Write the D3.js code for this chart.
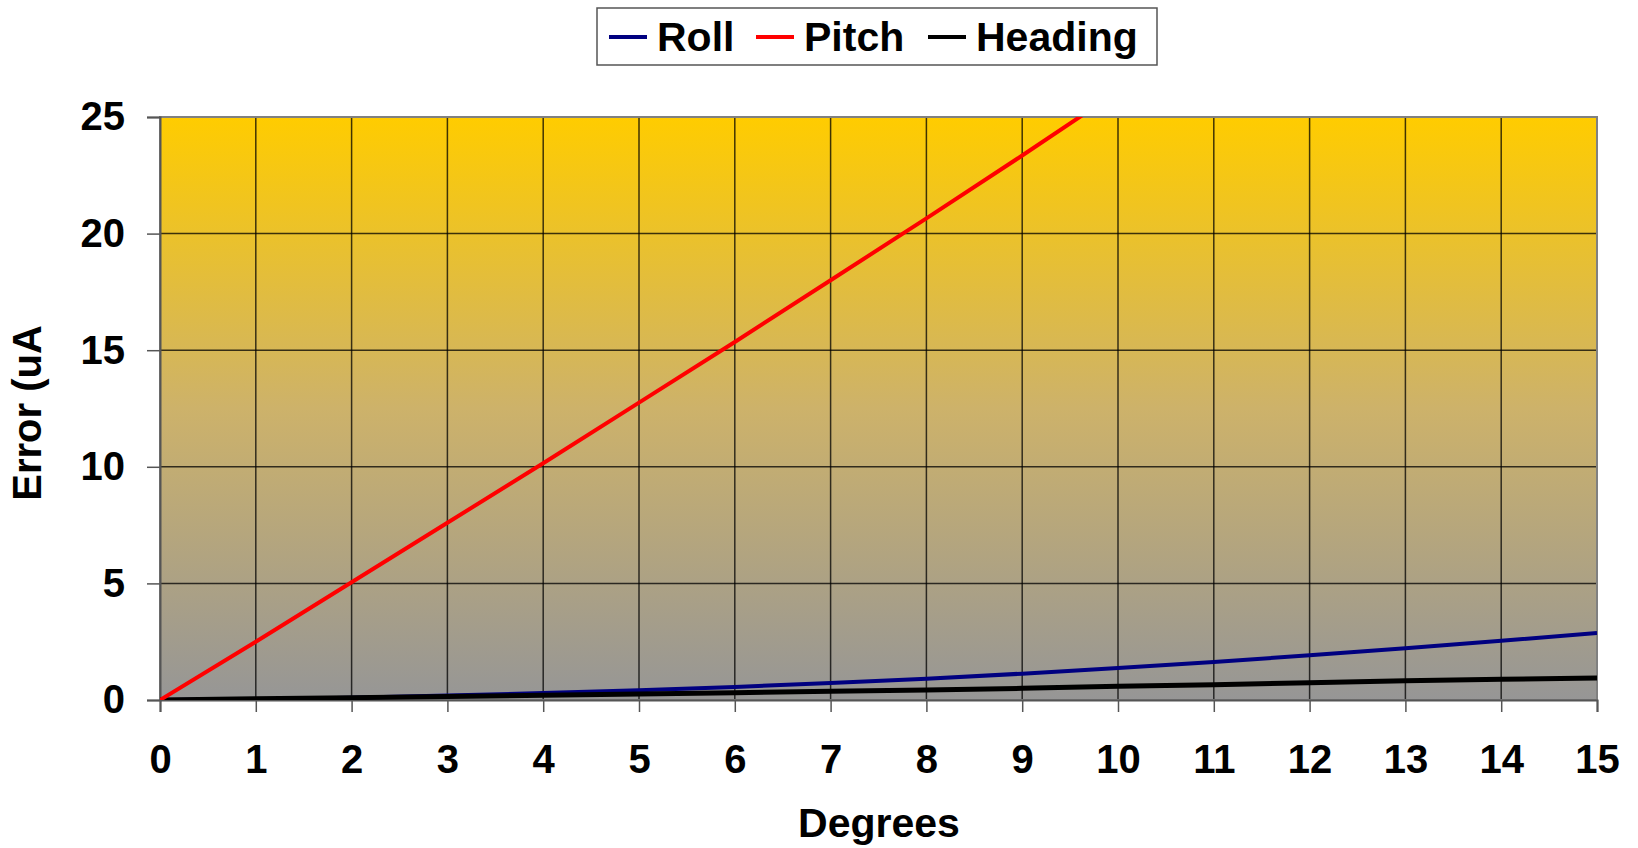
<!DOCTYPE html>
<html>
<head>
<meta charset="utf-8">
<script src="https://cdn.jsdelivr.net/npm/d3@7"></script>
<style>
  body { margin: 0; background: #fff; }
  svg { display: block; font-family: "Liberation Sans", Arial, sans-serif; font-weight: bold; }
</style>
</head>
<body>
<svg id="chart" width="1638" height="848"></svg>
<script>
const degrees = [0,1,2,3,4,5,6,7,8,9,10,11,12,13,14,15];
const roll    = [0,0.03,0.1,0.19,0.3,0.42,0.56,0.73,0.91,1.13,1.37,1.63,1.92,2.22,2.54,2.87];
const pitch   = [0,2.5,5.05,7.6,10.15,12.75,15.35,18.0,20.65,23.35,26.1,28.9,31.7,34.6,37.6,40.6];
const heading = [0,0.05,0.1,0.15,0.2,0.26,0.31,0.37,0.43,0.5,0.59,0.65,0.74,0.83,0.89,0.94];
const xTicks = [0,1,2,3,4,5,6,7,8,9,10,11,12,13,14,15];
const yTicks = [0,5,10,15,20,25];
const seriesNames = ["Roll","Pitch","Heading"];
const seriesColors = ["#000080","#FF0000","#000000"];
const seriesValues = [roll, pitch, heading];

const svg = d3.select("#chart");
const L = 160, R = 1597, T = 117, B = 700;
const x = d3.scaleLinear().domain([0,15]).range([L,R]);
const y = d3.scaleLinear().domain([0,25]).range([B,T]);

const defs = svg.append("defs");
const grad = defs.append("linearGradient").attr("id","bg").attr("x1",0).attr("y1",0).attr("x2",0).attr("y2",1);
grad.append("stop").attr("offset","0%").attr("stop-color","#FFCC00");
grad.append("stop").attr("offset","50%").attr("stop-color","#CDB26A");
grad.append("stop").attr("offset","100%").attr("stop-color","#969696");
defs.append("clipPath").attr("id","clip").append("rect")
  .attr("x",L).attr("y",T).attr("width",R-L).attr("height",B-T);

svg.append("rect").attr("x",L).attr("y",T).attr("width",R-L).attr("height",B-T).attr("fill","url(#bg)");

// gridlines
svg.append("g").selectAll("line").data(xTicks.slice(1,-1)).join("line")
  .attr("x1",d=>x(d)).attr("x2",d=>x(d)).attr("y1",T).attr("y2",B)
  .attr("stroke","#000").attr("stroke-opacity",0.75).attr("stroke-width",1.5);
svg.append("g").selectAll("line").data(yTicks.slice(1,-1)).join("line")
  .attr("x1",L).attr("x2",R).attr("y1",d=>y(d)).attr("y2",d=>y(d))
  .attr("stroke","#000").attr("stroke-opacity",0.75).attr("stroke-width",1.5);

// plot border
svg.append("rect").attr("x",L).attr("y",T).attr("width",R-L).attr("height",B-T)
  .attr("fill","none").attr("stroke","#808080").attr("stroke-width",2);

// axes
const fs = 40;
const yAxis = svg.append("g").attr("transform",`translate(${L},0)`)
  .call(d3.axisLeft(y).tickValues(yTicks).tickSize(13).tickPadding(22).tickFormat(d3.format("d")));
const xAxis = svg.append("g").attr("transform",`translate(0,${B})`)
  .call(d3.axisBottom(x).tickValues(xTicks).tickSize(12).tickPadding(33).tickFormat(d3.format("d")));
[yAxis, xAxis].forEach(a => {
  a.select(".domain").attr("stroke","#555").attr("stroke-width",2);
  a.selectAll(".tick line").attr("stroke","#555").attr("stroke-width",1.5);
  a.selectAll("text").attr("font-size",fs).attr("font-weight","bold")
    .attr("font-family","'Liberation Sans', Arial, sans-serif").attr("fill","#000");
});

// axis titles
svg.append("text").attr("x",879).attr("y",837).attr("text-anchor","middle")
  .attr("font-size",41).text("Degrees");
svg.append("text").attr("transform","translate(41,413) rotate(-90)").attr("text-anchor","middle")
  .attr("font-size",fs).text("Error (uA");

// lines
const line = vals => d3.line().x((d,i)=>x(degrees[i])).y(d=>y(d))(vals);
const lg = svg.append("g").attr("clip-path","url(#clip)");
const order = [0,2,1];
order.forEach(i => {
  lg.append("path").attr("d", line(seriesValues[i])).attr("fill","none")
    .attr("stroke", seriesColors[i]).attr("stroke-width", i===2 ? 5 : 4)
    .attr("stroke-linejoin","round");
});

// legend
svg.append("rect").attr("x",597).attr("y",8).attr("width",560).attr("height",57)
  .attr("fill","#fff").attr("stroke","#555").attr("stroke-width",1.5);
const legX = [609, 756, 928];
seriesNames.forEach((n,i) => {
  svg.append("line").attr("x1",legX[i]).attr("x2",legX[i]+38).attr("y1",37).attr("y2",37)
    .attr("stroke",seriesColors[i]).attr("stroke-width",4);
  svg.append("text").attr("x",legX[i]+48).attr("y",51).attr("font-size",41).text(n);
});
</script>
</body>
</html>
